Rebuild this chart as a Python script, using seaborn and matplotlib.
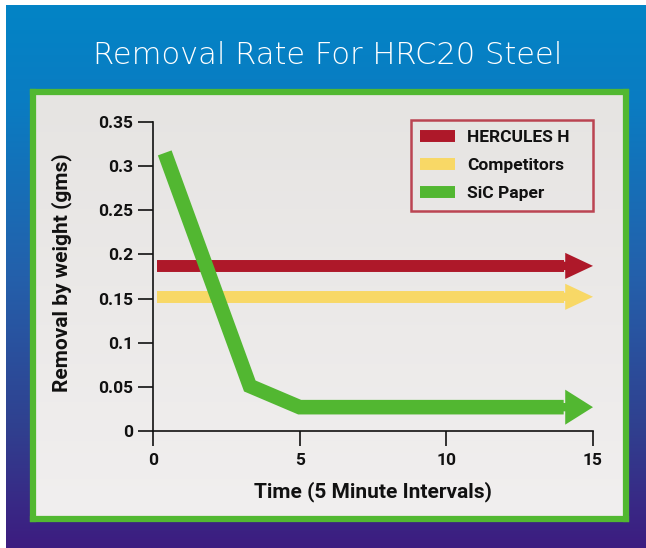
import numpy as np
import pandas as pd
import seaborn as sns
import matplotlib.pyplot as plt
from matplotlib.colors import LinearSegmentedColormap
from matplotlib.lines import Line2D

# chart data
series_names = ['HERCULES H', 'Competitors', 'SiC Paper']
hercules_time = [0.15, 14.0]
hercules_removal = [0.187, 0.187]
competitors_time = [0.15, 14.0]
competitors_removal = [0.152, 0.152]
sic_time = [0.4, 3.3, 5.0, 14.0]
sic_removal = [0.315, 0.051, 0.027, 0.027]
arrow_tip = 15.0
x_ticks = [0, 5, 10, 15]
y_ticks = [0, 0.05, 0.1, 0.15, 0.2, 0.25, 0.3, 0.35]
y_tick_labels = ['0', '0.05', '0.1', '0.15', '0.2', '0.25', '0.3', '0.35']

colors = {'HERCULES H': '#ae1829', 'Competitors': '#f8d866', 'SiC Paper': '#52b731'}

sns.set_style('white')
plt.rcParams['font.family'] = ['Liberation Sans Narrow', 'Roboto', 'DejaVu Sans']

W, H = 646, 548
fig = plt.figure(figsize=(W / 100, H / 100), dpi=100, facecolor='white')

# blue-to-purple backdrop
bg = fig.add_axes([6 / W, 0, (W - 6) / W, (H - 5) / H])
bg_cmap = LinearSegmentedColormap.from_list('bg', [
    (0.0, '#0384c6'), (0.18, '#0a7cc2'), (0.5, '#2460ab'),
    (0.78, '#30408f'), (1.0, '#3d1c80')])
bg.imshow(np.linspace(0, 1, 256).reshape(-1, 1), aspect='auto', cmap=bg_cmap,
          extent=[0, 1, 0, 1])
bg.set_axis_off()

# green framed panel
fx0, fx1, fy0, fy1 = 33, 626, 92, 519
frame = fig.add_axes([fx0 / W, 1 - fy1 / H, (fx1 - fx0) / W, (fy1 - fy0) / H])
panel_cmap = LinearSegmentedColormap.from_list('panel', ['#e6e4e2', '#f1efef'])
frame.imshow(np.linspace(0, 1, 256).reshape(-1, 1), aspect='auto', cmap=panel_cmap,
             extent=[0, 1, 0, 1])
frame.set_xticks([])
frame.set_yticks([])
for s in frame.spines.values():
    s.set_color('#52b831')
    s.set_linewidth(4.5)

fig.text(0.507, 1 - 55 / H, 'Removal Rate For HRC20 Steel', color='white',
         fontsize=22, ha='center', va='center', family='DejaVu Sans',
         fontweight='light')

# main plot
ax = fig.add_axes([153 / W, 1 - 431 / H, 440 / W, 309 / H])
ax.patch.set_alpha(0)

flat = pd.DataFrame({'time': hercules_time, 'removal': hercules_removal})
sns.lineplot(data=flat, x='time', y='removal', ax=ax, color=colors['HERCULES H'],
             linewidth=8.6, solid_capstyle='butt', zorder=3)
flat2 = pd.DataFrame({'time': competitors_time, 'removal': competitors_removal})
sns.lineplot(data=flat2, x='time', y='removal', ax=ax, color=colors['Competitors'],
             linewidth=8.6, solid_capstyle='butt', zorder=3)
sic = pd.DataFrame({'time': sic_time, 'removal': sic_removal})
sns.lineplot(data=sic, x='time', y='removal', ax=ax, sort=False, color=colors['SiC Paper'],
             linewidth=10.5, solid_capstyle='butt', solid_joinstyle='miter', zorder=4)

# arrow heads at the end of each series
for name, yv, hw in [('HERCULES H', hercules_removal[-1], 0.94),
                     ('Competitors', competitors_removal[-1], 0.94),
                     ('SiC Paper', sic_removal[-1], 1.26)]:
    ax.annotate('', xy=(arrow_tip, yv), xytext=(arrow_tip - 1.2, yv),
                arrowprops=dict(arrowstyle='simple,head_length=1.0,head_width=%.2f,tail_width=0.3' % hw,
                                mutation_scale=20, color=colors[name], shrinkA=0, shrinkB=0,
                                linewidth=0),
                zorder=5)

ax.set_xlim(0, 15)
ax.set_ylim(0, 0.35)
ax.set_xticks(x_ticks)
ax.set_yticks(y_ticks)
ax.set_yticklabels(y_tick_labels)
sns.despine(ax=ax)
for s in ['left', 'bottom']:
    ax.spines[s].set_linewidth(1.2)
    ax.spines[s].set_color('#111111')
ax.tick_params(axis='both', direction='out', length=11, width=1.2, color='#111111',
               labelsize=12.5, labelcolor='#111111', bottom=True, left=True)
ax.tick_params(axis='y', pad=3.5)
ax.tick_params(axis='x', pad=5)
for lbl in ax.get_xticklabels() + ax.get_yticklabels():
    lbl.set_fontweight('bold')

ax.set_xlabel('Time (5 Minute Intervals)', fontsize=15, fontweight='bold',
              color='#111111', va='center')
ax.set_ylabel('Removal by weight (gms)', fontsize=15, fontweight='bold',
              color='#111111', va='center')
ax.xaxis.set_label_coords(0.5, -0.197)
ax.yaxis.set_label_coords(-0.207, 0.512)

handles = [Line2D([0], [0], color=colors[n], lw=8.6, solid_capstyle='butt') for n in series_names]
leg = ax.legend(handles, series_names, loc='upper left',
                bbox_to_anchor=(0.586, 0.5, 0.414, 0.506), mode='expand',
                borderaxespad=0, frameon=True, fancybox=False, handlelength=2.0,
                handletextpad=0.7, labelspacing=0.75, borderpad=0.55,
                prop={'weight': 'bold', 'size': 12.5})
leg.get_frame().set_edgecolor('#b01c2e')
leg.get_frame().set_linewidth(1.8)
leg.get_frame().set_facecolor('none')
for t in leg.get_texts():
    t.set_color('#111111')

fig.savefig('out.png', dpi=100)
